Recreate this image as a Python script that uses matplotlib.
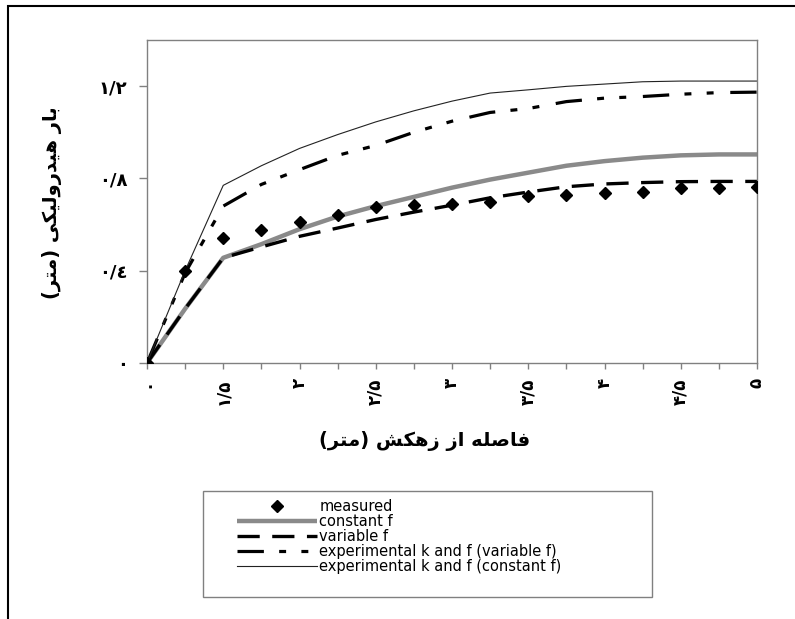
import unicodedata
import matplotlib
matplotlib.use("Agg")
import matplotlib.pyplot as plt
from matplotlib.patches import Rectangle

plt.rcParams["lines.scale_dashes"] = False

# ---------------- data ----------------
positions = list(range(17))
measured = [0, 0.40, 0.543, 0.575, 0.613, 0.643, 0.678, 0.683, 0.691, 0.696,
            0.722, 0.727, 0.735, 0.742, 0.759, 0.759, 0.764]
constant_f = [0, 0.235, 0.456, 0.515, 0.58, 0.635, 0.68, 0.72, 0.76, 0.795,
              0.825, 0.855, 0.875, 0.89, 0.90, 0.904, 0.904]
variable_f = [0, 0.235, 0.456, 0.503, 0.549, 0.585, 0.622, 0.654, 0.684, 0.716,
              0.741, 0.764, 0.776, 0.782, 0.786, 0.787, 0.787]
exp_variable_f = [0, 0.39, 0.68, 0.774, 0.838, 0.90, 0.943, 1.0, 1.048, 1.086,
                  1.103, 1.133, 1.148, 1.155, 1.165, 1.172, 1.174]
exp_constant_f = [0, 0.40, 0.77, 0.855, 0.93, 0.99, 1.045, 1.093, 1.135, 1.17,
                  1.184, 1.199, 1.209, 1.219, 1.222, 1.222, 1.222]

x_tick_labels = ["۰", "۱/۵", "۲", "۲/۵", "۳", "۳/۵", "۴", "۴/۵", "۵"]
y_ticks = [0, 0.4, 0.8, 1.2]
y_tick_labels = ["۰", "۰/٤", "۰/۸", "۱/۲"]
x_label = "فاصله از زهکش (متر)"
y_label = "بار هیدرولیکی (متر)"
legend_labels = ["measured", "constant f", "variable f",
                 "experimental k and f (variable f)",
                 "experimental k and f (constant f)"]


# ------------- simple Arabic-script shaping (presentation forms + visual order) -------------
def _build_forms():
    forms = {}
    for cp in list(range(0xFB50, 0xFE00)) + list(range(0xFE70, 0xFF00)):
        d = unicodedata.decomposition(chr(cp)).split()
        if len(d) == 2 and d[0] in ("<isolated>", "<final>", "<initial>", "<medial>"):
            base = chr(int(d[1], 16))
            forms.setdefault(base, {}).setdefault(d[0][1:-1], chr(cp))
    return forms


FORMS = _build_forms()


def shape(text):
    out = []
    n = len(text)
    for i, c in enumerate(text):
        f = FORMS.get(c)
        if not f:
            out.append(c)
            continue
        prev = text[i - 1] if i > 0 else ""
        nxt = text[i + 1] if i + 1 < n else ""
        p = prev in FORMS and "initial" in FORMS[prev]
        q = "initial" in f and nxt in FORMS and "final" in FORMS[nxt]
        if p and q and "medial" in f:
            out.append(f["medial"])
        elif p and "final" in f:
            out.append(f["final"])
        elif q and "initial" in f:
            out.append(f["initial"])
        else:
            out.append(f.get("isolated", c))
    s = "".join(out)[::-1]
    return s.translate(str.maketrans("()", ")("))


# ---------------- figure ----------------
W, H = 795, 619
fig = plt.figure(figsize=(W / 100, H / 100), dpi=100)
fig.patch.set_facecolor("white")
ax = fig.add_axes([147 / W, 1 - 363 / H, 610 / W, 323 / H])

l1, = ax.plot(positions, measured, ls="none", marker="D", ms=6.5, color="black", zorder=3)
l2, = ax.plot(positions, constant_f, color="#8a8a8a", lw=3.2, solid_capstyle="butt")
l3, = ax.plot(positions, variable_f, color="black", lw=2.4, dashes=(16, 9))
l4, = ax.plot(positions, exp_variable_f, color="black", lw=2.3, dashes=(19, 11, 5, 11, 5, 12))
l5, = ax.plot(positions, exp_constant_f, color="#222222", lw=0.8)

ax.set_xlim(0, 16)
ax.set_ylim(0, 1.4)
ax.set_xticks(positions)
ax.set_xticklabels([x_tick_labels[i // 2] if i % 2 == 0 else "" for i in positions],
                   rotation=90, fontsize=12, fontweight="bold", family="DejaVu Sans")
ax.set_yticks(y_ticks)
ax.set_yticklabels(y_tick_labels, fontsize=13, fontweight="bold", family="DejaVu Sans")
ax.tick_params(axis="x", direction="out", length=4, width=1, color="#808080", pad=7)
ax.tick_params(axis="y", direction="out", length=6, width=1, color="#808080", pad=8)
for sp in ax.spines.values():
    sp.set_color("#808080")
    sp.set_linewidth(1)

fig.text(425 / W, 1 - 441 / H, shape(x_label), ha="center", va="center",
         fontsize=14, fontweight="bold", family="DejaVu Sans")
fig.text(52 / W, 1 - 203 / H, shape(y_label), ha="center", va="center", rotation=90,
         fontsize=14, fontweight="bold", family="DejaVu Sans")

fig.legend([l1, l2, l3, l4, l5], legend_labels, loc="upper left",
           bbox_to_anchor=(237 / W, 1 - 499 / H), frameon=False, borderpad=0,
           borderaxespad=0, handlelength=5.5, handletextpad=0.15, labelspacing=0.0,
           prop={"family": "DejaVu Sans", "size": 10.5})

fig.add_artist(Rectangle((203 / W, 1 - 597 / H), (652 - 203) / W, (597 - 491) / H,
                         transform=fig.transFigure, fill=False, edgecolor="#808080", lw=1))
fig.add_artist(Rectangle((8 / W, -0.1), 1.2, 1.1 - 6 / H, transform=fig.transFigure,
                         fill=False, edgecolor="black", lw=1.5, clip_on=False))

fig.savefig("out.png", dpi=100)
